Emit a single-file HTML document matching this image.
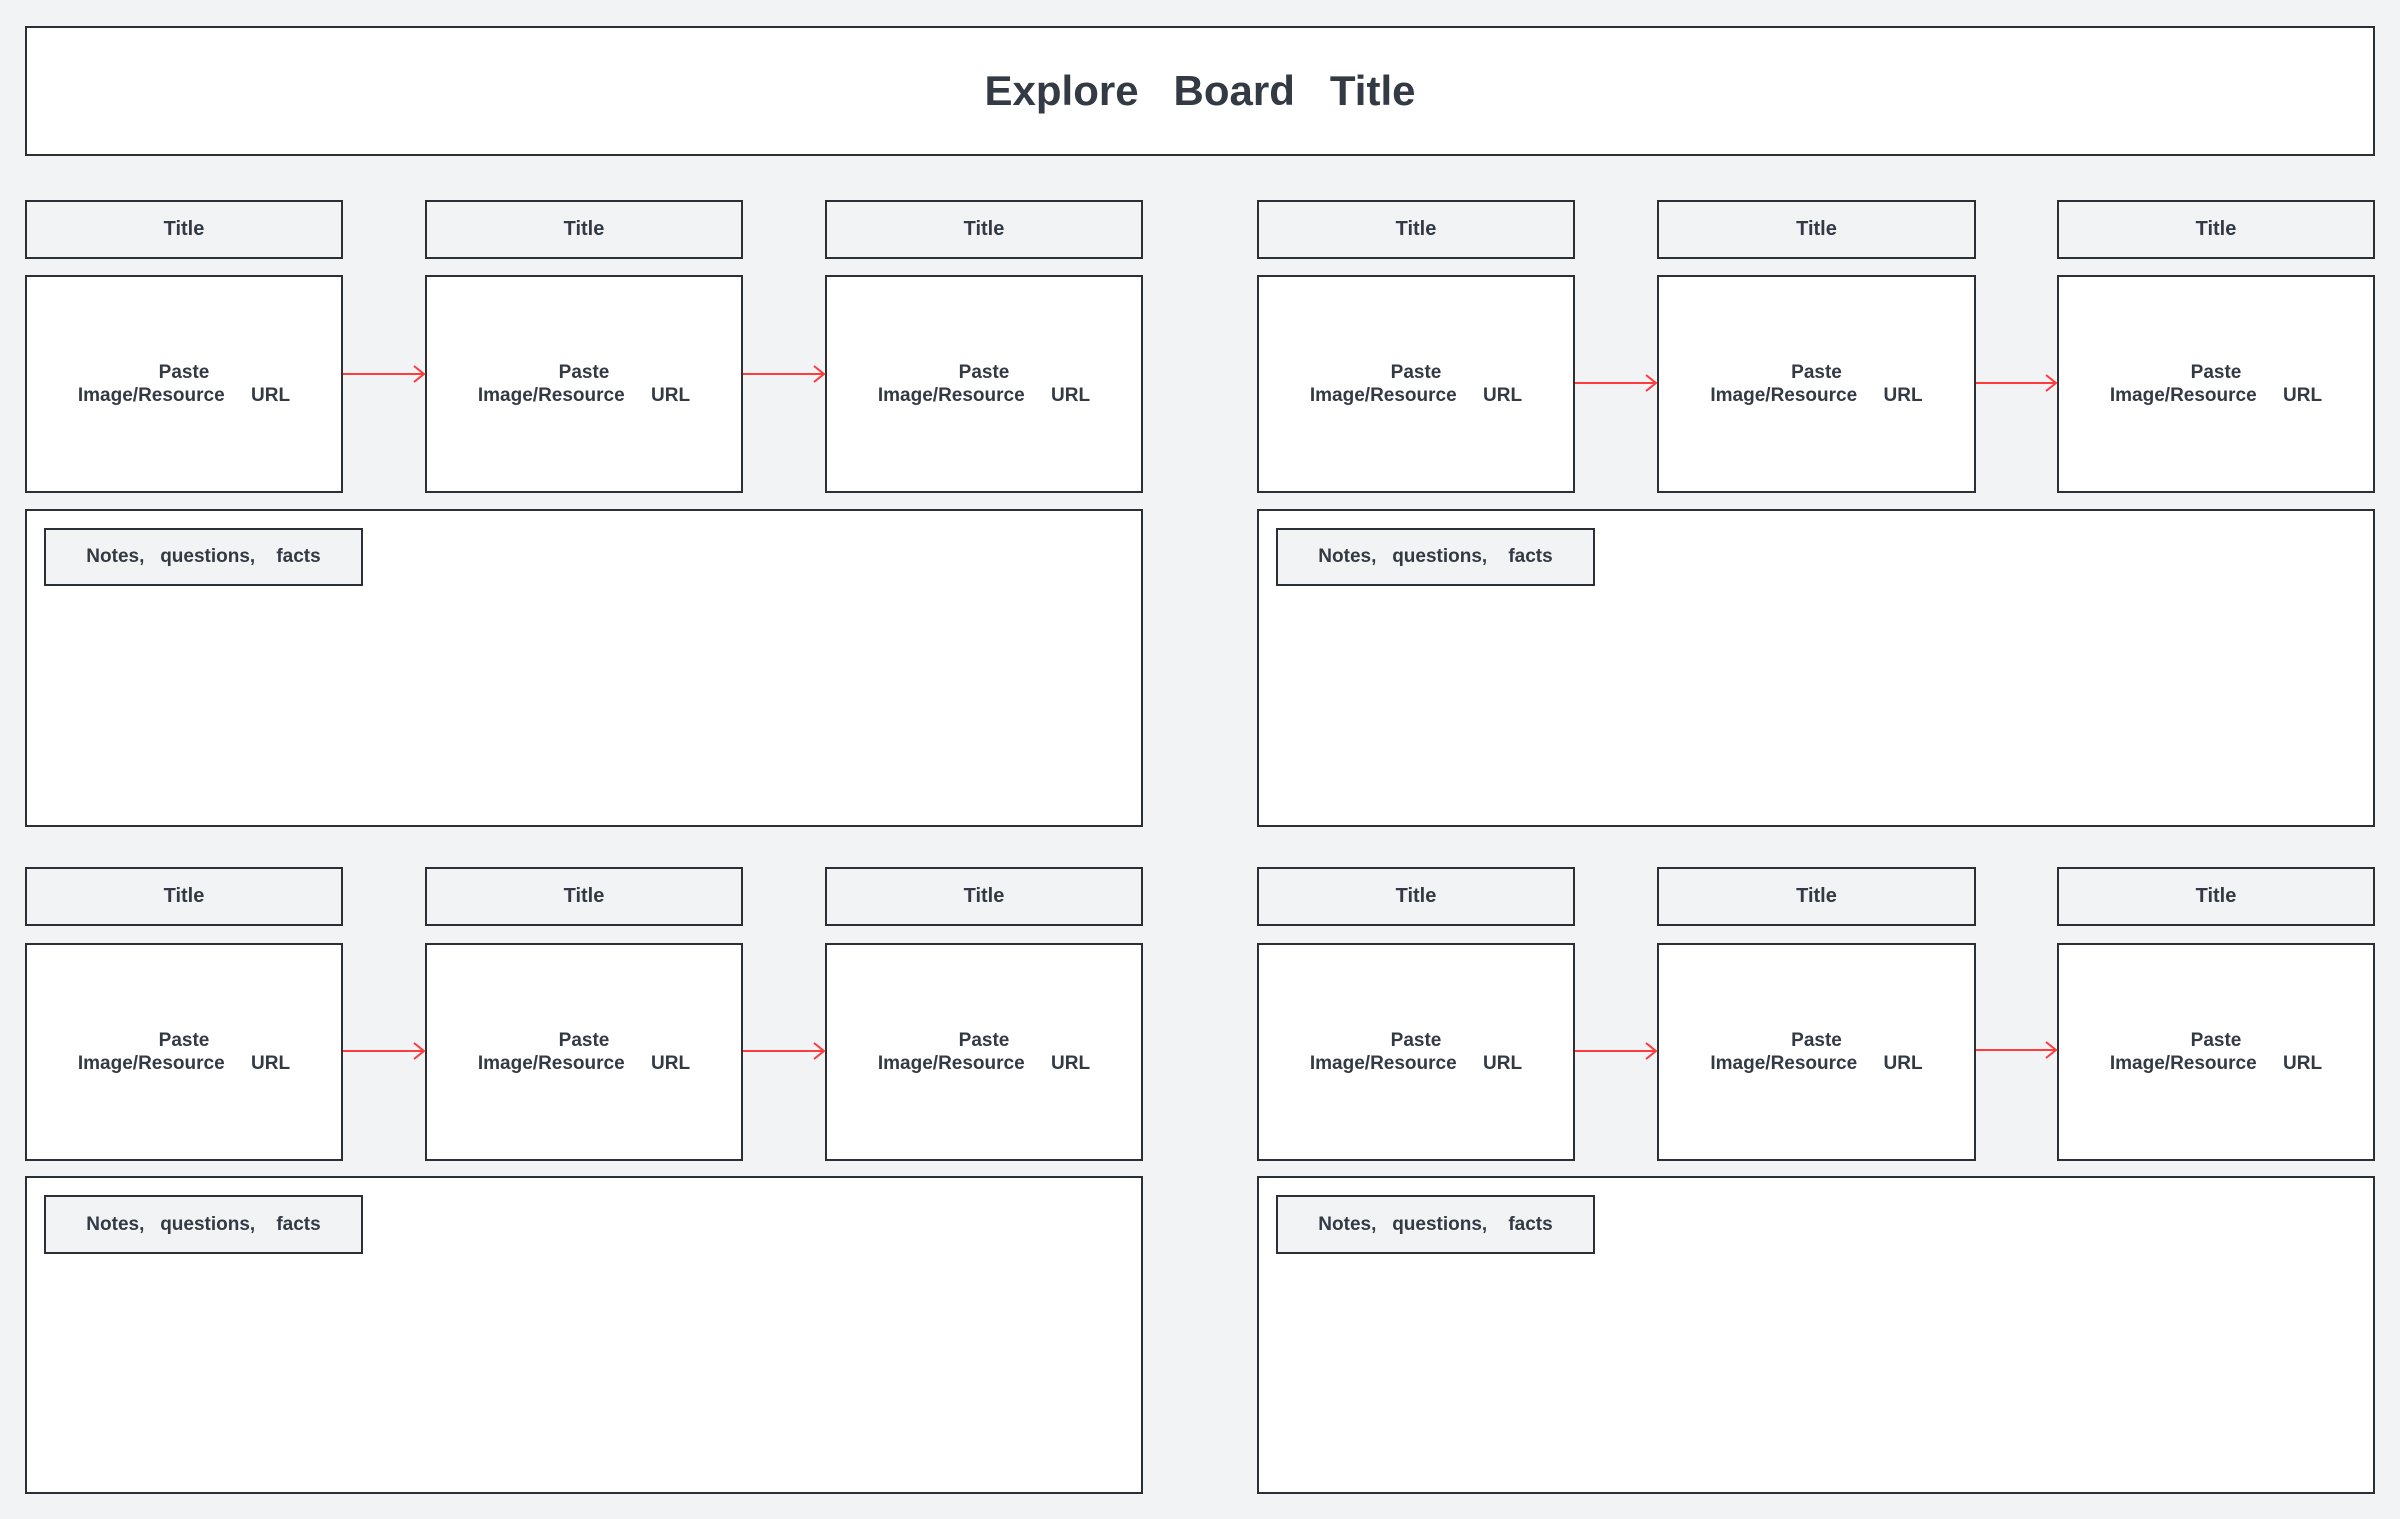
<!DOCTYPE html>
<html><head><meta charset="utf-8"><style>
body{margin:0;width:2400px;height:1519px;background:#f2f3f5;position:relative;overflow:hidden;font-family:"Liberation Sans",sans-serif;color:#333a44;font-weight:bold}
.b{position:absolute;box-sizing:border-box;border:2px solid #2b2f36;display:flex;align-items:center;justify-content:center;text-align:center}
.t{background:#f2f3f5;font-size:20px}
.i{background:#fff;font-size:19px;line-height:23px;white-space:pre}
.n{background:#fff}
.l{background:#f2f3f5;font-size:19px;white-space:pre}
</style></head><body>
<div class="b" style="left:25px;top:26px;width:2350px;height:130px;background:#fff;font-size:42px;white-space:pre">Explore   Board   Title</div>

<!-- top-left -->
<div class="b t" style="left:25px;top:200px;width:318px;height:59px">Title</div>
<div class="b t" style="left:425px;top:200px;width:318px;height:59px">Title</div>
<div class="b t" style="left:825px;top:200px;width:318px;height:59px">Title</div>
<div class="b i" style="left:25px;top:275px;width:318px;height:218px">Paste
Image/Resource     URL</div>
<div class="b i" style="left:425px;top:275px;width:318px;height:218px">Paste
Image/Resource     URL</div>
<div class="b i" style="left:825px;top:275px;width:318px;height:218px">Paste
Image/Resource     URL</div>
<div class="b n" style="left:25px;top:509px;width:1118px;height:318px"></div>
<div class="b l" style="left:44px;top:528px;width:319px;height:58px">Notes,   questions,    facts</div>

<!-- top-right -->
<div class="b t" style="left:1257px;top:200px;width:318px;height:59px">Title</div>
<div class="b t" style="left:1657px;top:200px;width:319px;height:59px">Title</div>
<div class="b t" style="left:2057px;top:200px;width:318px;height:59px">Title</div>
<div class="b i" style="left:1257px;top:275px;width:318px;height:218px">Paste
Image/Resource     URL</div>
<div class="b i" style="left:1657px;top:275px;width:319px;height:218px">Paste
Image/Resource     URL</div>
<div class="b i" style="left:2057px;top:275px;width:318px;height:218px">Paste
Image/Resource     URL</div>
<div class="b n" style="left:1257px;top:509px;width:1118px;height:318px"></div>
<div class="b l" style="left:1276px;top:528px;width:319px;height:58px">Notes,   questions,    facts</div>

<!-- bottom-left -->
<div class="b t" style="left:25px;top:867px;width:318px;height:59px">Title</div>
<div class="b t" style="left:425px;top:867px;width:318px;height:59px">Title</div>
<div class="b t" style="left:825px;top:867px;width:318px;height:59px">Title</div>
<div class="b i" style="left:25px;top:943px;width:318px;height:218px">Paste
Image/Resource     URL</div>
<div class="b i" style="left:425px;top:943px;width:318px;height:218px">Paste
Image/Resource     URL</div>
<div class="b i" style="left:825px;top:943px;width:318px;height:218px">Paste
Image/Resource     URL</div>
<div class="b n" style="left:25px;top:1176px;width:1118px;height:318px"></div>
<div class="b l" style="left:44px;top:1195px;width:319px;height:59px">Notes,   questions,    facts</div>

<!-- bottom-right -->
<div class="b t" style="left:1257px;top:867px;width:318px;height:59px">Title</div>
<div class="b t" style="left:1657px;top:867px;width:319px;height:59px">Title</div>
<div class="b t" style="left:2057px;top:867px;width:318px;height:59px">Title</div>
<div class="b i" style="left:1257px;top:943px;width:318px;height:218px">Paste
Image/Resource     URL</div>
<div class="b i" style="left:1657px;top:943px;width:319px;height:218px">Paste
Image/Resource     URL</div>
<div class="b i" style="left:2057px;top:943px;width:318px;height:218px">Paste
Image/Resource     URL</div>
<div class="b n" style="left:1257px;top:1176px;width:1118px;height:318px"></div>
<div class="b l" style="left:1276px;top:1195px;width:319px;height:59px">Notes,   questions,    facts</div>

<svg style="position:absolute;left:0;top:0" width="2400" height="1519" fill="none" stroke="#ff3b3b" stroke-width="2">
<path d="M343 374H424M414 366L424 374L414 382"/>
<path d="M743 374H824M814 366L824 374L814 382"/>
<path d="M1575 383H1656M1646 375L1656 383L1646 391"/>
<path d="M1976 383H2056M2046 375L2056 383L2046 391"/>
<path d="M343 1051H424M414 1043L424 1051L414 1059"/>
<path d="M743 1051H824M814 1043L824 1051L814 1059"/>
<path d="M1575 1051H1656M1646 1043L1656 1051L1646 1059"/>
<path d="M1976 1050H2056M2046 1042L2056 1050L2046 1058"/>
</svg>
</body></html>
